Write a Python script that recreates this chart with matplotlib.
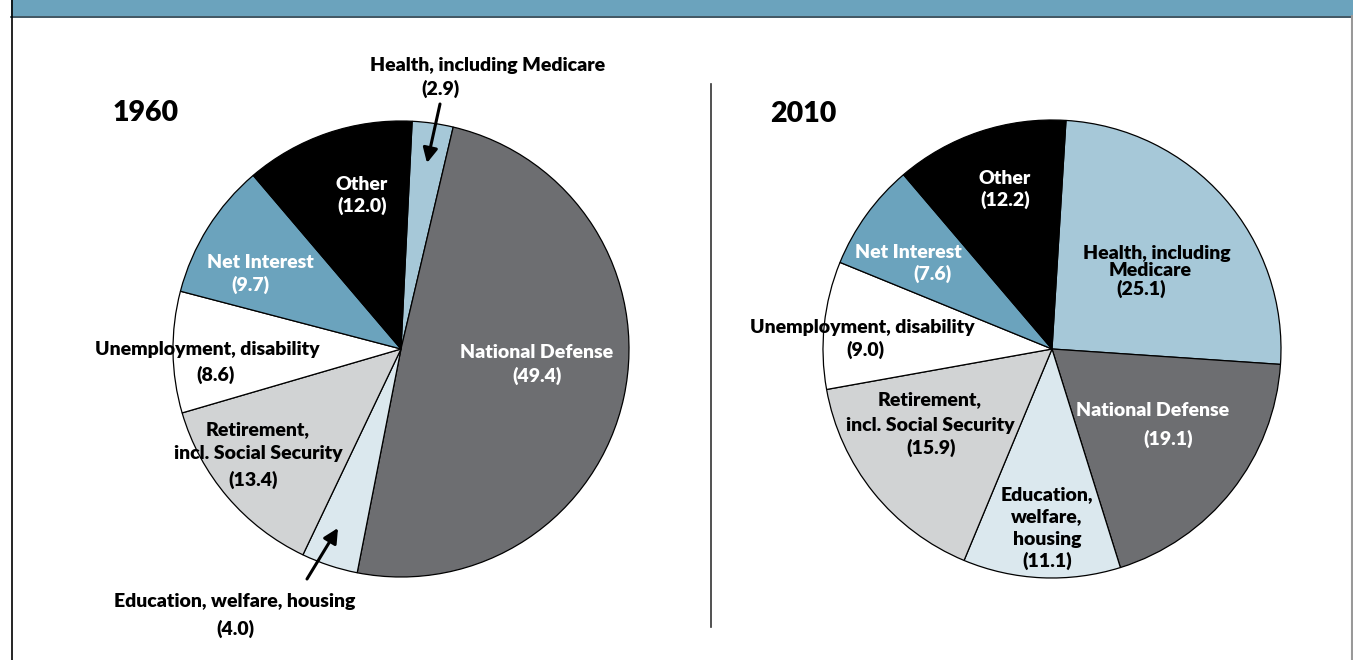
import matplotlib
matplotlib.use("Agg")
import matplotlib.pyplot as plt
from matplotlib.patches import Rectangle

plt.rcParams['font.family'] = ['Lato', 'DejaVu Sans']

# shares of federal spending, percent (clockwise from the top)
cats_1960 = ["Health, including Medicare", "National Defense", "Education, welfare, housing",
             "Retirement, incl. Social Security", "Unemployment, disability",
             "Net Interest", "Other"]
vals_1960 = [2.9, 49.4, 4.0, 13.4, 8.6, 9.7, 12.0]

cats_2010 = cats_1960
vals_2010 = [25.1, 19.1, 11.1, 15.9, 9.0, 7.6, 12.2]

colors = ["#a6c8d8", "#6d6e71", "#dbe8ee", "#d1d3d4", "#ffffff", "#6ba3bd", "#000000"]

W, H = 1353, 660
fig = plt.figure(figsize=(W / 100, H / 100), dpi=100)
ax = fig.add_axes([0, 0, 1, 1])

def Y(y):
    # pixel row from top -> data y
    return H - y

wp = dict(edgecolor="black", linewidth=0.9)
ax.pie(vals_1960, colors=colors, startangle=87.2, counterclock=False,
       center=(401, Y(349)), radius=228, wedgeprops=wp, frame=True)
ax.pie(vals_2010, colors=colors, startangle=86.5, counterclock=False,
       center=(1052, Y(349)), radius=229, wedgeprops=wp, frame=True)

ax.set_xlim(0, W)
ax.set_ylim(0, H)
ax.set_aspect("equal")
ax.axis("off")

# header band and frame
ax.add_patch(Rectangle((11, Y(16)), W - 11, 16, facecolor="#6ba3bd", edgecolor="none", zorder=5))
ax.plot([11, W], [Y(16.5), Y(16.5)], color="#1f3a48", lw=1.2, zorder=6)
ax.plot([11.5, 11.5], [0, H], color="black", lw=1.2, zorder=6)
ax.plot([W - 1.5, W - 1.5], [0, Y(16)], color="#999999", lw=1.5, zorder=6)
ax.plot([711, 711], [Y(627), Y(84)], color="#333333", lw=1.2)

fs = 14
wt = "heavy"

def lab(x, y, s, c="black", size=fs):
    ax.text(x, Y(y + 2), s, ha="center", va="center", fontsize=size,
            fontweight=wt, color=c, zorder=10)

lab(146, 111, "1960", size=20.5)
lab(803, 112, "2010", size=20.5)

# 1960 labels
lab(488, 64, "Health, including Medicare")
lab(441, 87, "(2.9)")
lab(362, 182, "Other", "white")
lab(362, 204, "(12.0)", "white")
lab(260, 260, "Net Interest", "white")
lab(250, 283, "(9.7)", "white")
lab(207, 348, "Unemployment, disability")
lab(216, 373, "(8.6)")
lab(258, 428, "Retirement,")
lab(258, 452, "incl. Social Security")
lab(253, 478, "(13.4)")
lab(537, 350, "National Defense", "white")
lab(537, 374, "(49.4)", "white")
lab(235, 599, "Education, welfare, housing")
lab(235, 627, "(4.0)")

arr = dict(arrowstyle="-|>", color="black", lw=2.2, mutation_scale=22, shrinkA=0, shrinkB=0)
ax.annotate("", xy=(427, Y(163)), xytext=(440, Y(104)), arrowprops=arr, zorder=10)
ax.annotate("", xy=(338, Y(528)), xytext=(307, Y(579)), arrowprops=arr, zorder=10)

# 2010 labels
lab(1005, 176, "Other", "white")
lab(1005, 198, "(12.2)", "white")
lab(908, 250, "Net Interest", "white")
lab(932, 272, "(7.6)", "white")
lab(1157, 252, "Health, including")
lab(1150, 269, "Medicare")
lab(1141, 287, "(25.1)")
lab(862, 326, "Unemployment, disability")
lab(865, 348, "(9.0)")
lab(930, 398, "Retirement,")
lab(930, 423, "incl. Social Security")
lab(931, 446, "(15.9)")
lab(1153, 409, "National Defense", "white")
lab(1168, 437, "(19.1)", "white")
lab(1047, 493, "Education,")
lab(1047, 515, "welfare,")
lab(1047, 537, "housing")
lab(1047, 559, "(11.1)")

fig.savefig("out.png", dpi=100)
